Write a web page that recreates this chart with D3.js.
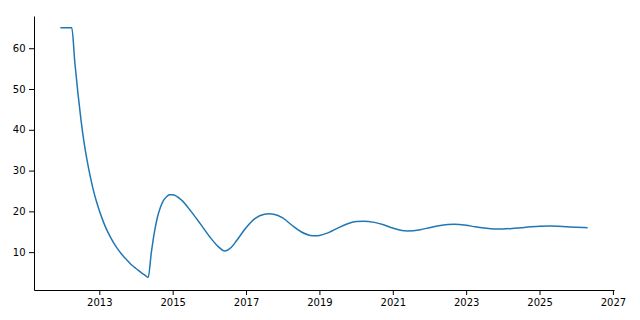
<!DOCTYPE html>
<html>
<head>
<meta charset="utf-8">
<script src="https://cdn.jsdelivr.net/npm/d3@7"></script>
<style>
  body { margin: 0; background: #fff; }
  svg text { font-family: "DejaVu Sans", sans-serif; font-size: 10px; fill: #000; }
</style>
</head>
<body>
<svg id="chart" width="640" height="320"></svg>
<script>
// data (decimal years, value)
var years = [
  2011.94, 2012.250, 2012.333, 2012.417, 2012.500, 2012.583, 2012.667, 2012.750, 2012.833, 2012.917,
  2013.000, 2013.083, 2013.167, 2013.250, 2013.333, 2013.417, 2013.500, 2013.583, 2013.667, 2013.750,
  2013.833, 2013.917, 2014.000, 2014.083, 2014.167, 2014.250, 2014.333,
  2014.417, 2014.500, 2014.583, 2014.667, 2014.750, 2014.833, 2014.917, 2015.000,
  2015.25, 2015.50, 2015.75, 2016.00, 2016.25, 2016.42,
  2016.60, 2016.75, 2017.00, 2017.25, 2017.50, 2017.62,
  2017.75, 2018.00, 2018.25, 2018.50, 2018.75, 2018.90,
  2019.00, 2019.25, 2019.50, 2019.75, 2020.00, 2020.20,
  2020.50, 2020.75, 2021.00, 2021.25, 2021.40,
  2021.75, 2022.00, 2022.25, 2022.50, 2022.67,
  2023.00, 2023.25, 2023.50, 2023.75, 2024.00,
  2024.25, 2024.50, 2024.75, 2025.00, 2025.30,
  2025.50, 2025.75, 2026.00, 2026.31
];
var values = [
  65, 65, 56.5, 49, 42.5, 37, 32.5, 28.7, 25.4, 22.6,
  20.2, 18.1, 16.2, 14.6, 13.2, 11.9, 10.8, 9.8, 8.9, 8.1,
  7.3, 6.6, 6.0, 5.4, 4.8, 4.3, 3.8,
  9.8, 14.8, 18.5, 21.0, 22.7, 23.6, 24.05, 24.1,
  22.7, 20.0, 17.0, 13.9, 11.3, 10.3,
  11.2, 12.9, 16.0, 18.3, 19.3, 19.4,
  19.3, 18.4, 16.6, 15.0, 14.1, 14.0,
  14.1, 14.8, 15.9, 16.9, 17.5, 17.6,
  17.3, 16.7, 15.9, 15.3, 15.2,
  15.5, 16.0, 16.5, 16.8, 16.85,
  16.6, 16.2, 15.9, 15.7, 15.7,
  15.8, 16.0, 16.2, 16.35, 16.4,
  16.35, 16.2, 16.1, 16.0
];
var xTicks = [2013, 2015, 2017, 2019, 2021, 2023, 2025, 2027];
var yTicks = [10, 20, 30, 40, 50, 60];

var data = years.map((yr, i) => [yr, values[i]]);

var plotLeft = 34, plotRight = 614, plotTop = 16, plotBottom = 290;

var x = d3.scaleLinear().domain([2011.22, 2027.03]).range([plotLeft, plotRight]);
var y = d3.scaleLinear().domain([0.72, 67.9]).range([plotBottom, plotTop]);

var svg = d3.select("#chart");

var line = d3.line()
  .x(d => x(d[0]))
  .y(d => y(d[1]))
  .curve(d3.curveMonotoneX);

svg.append("path")
  .datum(data)
  .attr("fill", "none")
  .attr("stroke", "#1f77b4")
  .attr("stroke-width", 1.5)
  .attr("stroke-linejoin", "round")
  .attr("d", line);

svg.append("g")
  .attr("transform", `translate(0,${plotBottom})`)
  .call(d3.axisBottom(x).tickValues(xTicks).tickFormat(d3.format("d")).tickSize(5).tickPadding(3.5).tickSizeOuter(0));

svg.append("g")
  .attr("transform", `translate(${plotLeft},0)`)
  .call(d3.axisLeft(y).tickValues(yTicks).tickSize(5).tickPadding(3.5).tickSizeOuter(0));

svg.selectAll(".domain").attr("stroke", "#000").attr("stroke-width", 1);
svg.selectAll(".tick line").attr("stroke", "#000").attr("stroke-width", 1);
svg.selectAll(".tick text").attr("font-family", "DejaVu Sans").attr("font-size", 10);
</script>
</body>
</html>
